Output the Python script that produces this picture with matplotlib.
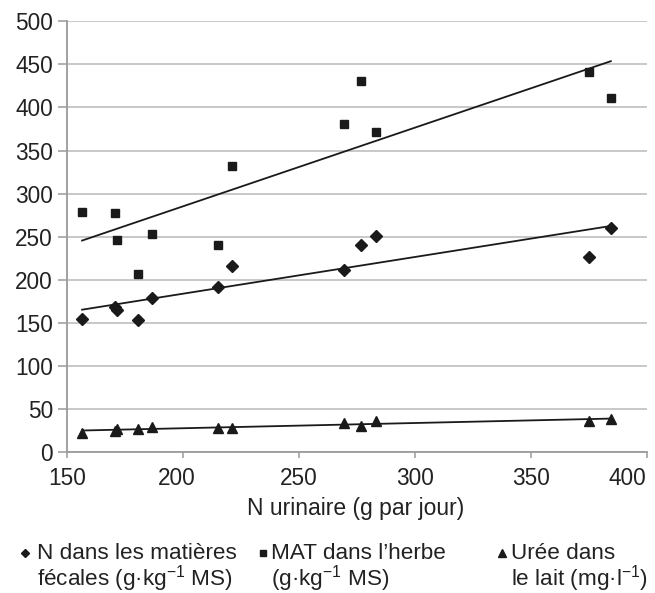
import numpy as np
import matplotlib
matplotlib.use("Agg")
import matplotlib.pyplot as plt
from matplotlib.lines import Line2D
import matplotlib.transforms as mtransforms

plt.rcParams['font.family'] = ['Liberation Sans', 'DejaVu Sans']
plt.rcParams['mathtext.fontset'] = 'custom'
plt.rcParams['mathtext.rm'] = 'Liberation Sans'
plt.rcParams['mathtext.default'] = 'regular'

# ---- data ----
n_urinaire = [156.5, 170.5, 171.5, 180.8, 186.8, 215.0, 221.2, 269.6, 276.9, 283.0, 374.8, 384.4]
n_feces = [154, 168, 165, 153.5, 178.5, 191, 215.5, 211, 240.5, 251, 226, 260.5]
mat_herbe = [278.5, 277, 246.5, 206.6, 253.5, 240, 332.5, 381, 431, 372, 441.5, 411]
uree_lait = [22.5, 24, 27, 26.7, 29.4, 28, 27.5, 34, 30.6, 36.4, 36.4, 38.4]

series_labels = [
    "N dans les matières\nfécales (g·kg$^{-1}$ MS)",
    "MAT dans l\u2019herbe\n(g·kg$^{-1}$ MS)",
    "Urée dans\nle lait (mg·l$^{-1}$)",
]
x_ticks = [150, 200, 250, 300, 350, 400]
y_ticks = [0, 50, 100, 150, 200, 250, 300, 350, 400, 450, 500]
x_label = "N urinaire (g par jour)"

W, H = 655, 593
fig = plt.figure(figsize=(W / 100, H / 100), dpi=100)
ax = fig.add_axes([67 / W, 1 - 452 / H, (647 - 67) / W, (452 - 21.3) / H])

ink = '#1a1a1a'
grid_c = '#c8c8c8'
spine_c = '#9a9a9a'

styles = [
    dict(marker='D', ms=6.0),
    dict(marker='s', ms=5.8),
    dict(marker='^', ms=7.3),
]
series = [n_feces, mat_herbe, uree_lait]
x = np.array(n_urinaire)
for ys, st in zip(series, styles):
    ys = np.array(ys)
    ax.plot(x, ys, linestyle='none', marker=st['marker'], ms=st['ms'],
            color=ink, mec=ink, zorder=4)
    coef = np.polyfit(x, ys, 1)
    xx = np.array([x.min(), x.max()])
    ax.plot(xx, np.polyval(coef, xx), color=ink, lw=1.3, zorder=3)

ax.set_xlim(150, 400)
ax.set_ylim(0, 500)
ax.set_xticks(x_ticks)
ax.set_yticks(y_ticks)
ax.set_xticklabels([str(v) for v in x_ticks])
ax.set_yticklabels([str(v) for v in y_ticks])
ax.yaxis.grid(True, color=grid_c, lw=1.4)
ax.set_axisbelow(True)
for s in ['top', 'right']:
    ax.spines[s].set_visible(False)
for s in ['left', 'bottom']:
    ax.spines[s].set_color(spine_c)
    ax.spines[s].set_linewidth(1.3)
ax.tick_params(axis='y', length=6.5, width=1.1, color=spine_c, pad=3.6,
               labelsize=16.3, labelcolor='#222222')
ax.tick_params(axis='x', length=4.5, width=1.1, color=spine_c, pad=6,
               labelsize=16.3, labelcolor='#222222')

# shift some x labels slightly as in the reference
lbls = ax.get_xticklabels()
off = mtransforms.ScaledTranslation(-20 / 100, 0, fig.dpi_scale_trans)
lbls[-1].set_transform(lbls[-1].get_transform() + off)
off2 = mtransforms.ScaledTranslation(-6 / 100, 0, fig.dpi_scale_trans)
lbls[1].set_transform(lbls[1].get_transform() + off2)

fig.text(356 / W, 1 - 508 / H, x_label, ha='center', va='center',
         fontsize=16.5, color='#222222')

# manual legend
leg_pos = [(25, 37), (263, 271), (502, 511)]
for (mx, tx), st, lab in zip(leg_pos, styles, series_labels):
    fig.add_artist(Line2D([mx / W], [1 - 553 / H], transform=fig.transFigure,
                          marker=st['marker'], ms=st['ms'] * 0.72, color=ink,
                          linestyle='none'))
    fig.text(tx / W, 1 - 543 / H, lab, ha='left', va='top', fontsize=16.2,
             color='#222222', linespacing=0.95)

fig.savefig('out.png', dpi=100)
